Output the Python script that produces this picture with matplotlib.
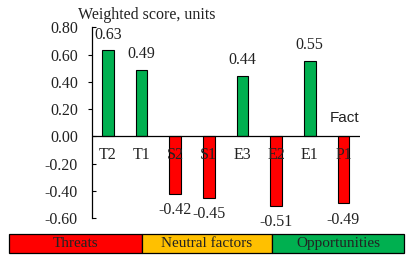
import matplotlib
matplotlib.use("Agg")
import matplotlib.pyplot as plt
import matplotlib.lines as mlines
from matplotlib.patches import Rectangle
from matplotlib.ticker import FormatStrFormatter

plt.rcParams['font.family'] = 'Liberation Serif'
plt.rcParams['axes.unicode_minus'] = False

factors = ['T2', 'T1', 'S2', 'S1', 'E3', 'E2', 'E1', 'P1']
scores = [0.63, 0.49, -0.42, -0.45, 0.44, -0.51, 0.55, -0.49]
yticks = [0.80, 0.60, 0.40, 0.20, 0.00, -0.20, -0.40, -0.60]
band_labels = ['Threats', 'Neutral factors', 'Opportunities']
band_colors = ['#FF0000', '#FFC000', '#00B050']

W, H = 410, 262
fig = plt.figure(figsize=(W / 100, H / 100), dpi=100)
ax = fig.add_axes([91.7 / W, 1 - 218.3 / H, (360.3 - 91.7) / W, (218.3 - 27.3) / H])

colors = ['#00B050' if s > 0 else '#FF0000' for s in scores]
x = range(len(factors))
ax.bar(x, scores, width=0.34, color=colors, edgecolor='black', linewidth=0.8, zorder=2)
ax.axhline(0, color='black', linewidth=0.9, zorder=3)

for i, s in enumerate(scores):
    off = 11.5 if s > 0 else -11.8
    ax.annotate('%.2f' % s, (i, s), xytext=(0, off), textcoords='offset points',
                ha='center', va='center', fontsize=11.5, color='#222222')
    ax.annotate(factors[i], (i, 0), xytext=(0, -13.4), textcoords='offset points',
                ha='center', va='center', fontsize=11.5, color='#222222', zorder=4)

ax.set_xlim(-0.48, 7.5)
ax.set_ylim(-0.6, 0.8)
ax.set_xticks([])
ax.set_yticks(yticks)
ax.yaxis.set_major_formatter(FormatStrFormatter('%.2f'))
ax.tick_params(axis='y', direction='out', length=3, width=0.8, pad=7, labelsize=11.5,
               labelcolor='#222222')
for t, v in zip(ax.yaxis.get_major_ticks(), yticks):
    if v <= 0 or v >= 0.8:
        t.tick1line.set_marker(mlines.TICKRIGHT)
for side in ['top', 'right', 'bottom']:
    ax.spines[side].set_visible(False)
ax.spines['left'].set_linewidth(0.9)
ax.patch.set_alpha(0)

fig.text(78 / W, 1 - 15 / H, 'Weighted score, units', ha='left', va='center',
         fontsize=11.5, color='#222222')
fig.text(330 / W, 1 - 118 / H, 'Fact', ha='left', va='center', fontsize=11,
         family='Liberation Sans', color='#222222')

# band of factor groups under the chart
edges = [9.3, 142, 272, 404]
y0, y1 = 234, 253
for k in range(3):
    fig.patches.append(Rectangle((edges[k] / W, 1 - y1 / H), (edges[k + 1] - edges[k]) / W,
                                 (y1 - y0) / H, transform=fig.transFigure,
                                 facecolor=band_colors[k], edgecolor='black', linewidth=0.9))
    fig.text((edges[k] + edges[k + 1]) / 2 / W, 1 - (y0 + y1) / 2 / H, band_labels[k],
             ha='center', va='center', fontsize=11, color='#222222')

fig.savefig('out.png', dpi=100)
